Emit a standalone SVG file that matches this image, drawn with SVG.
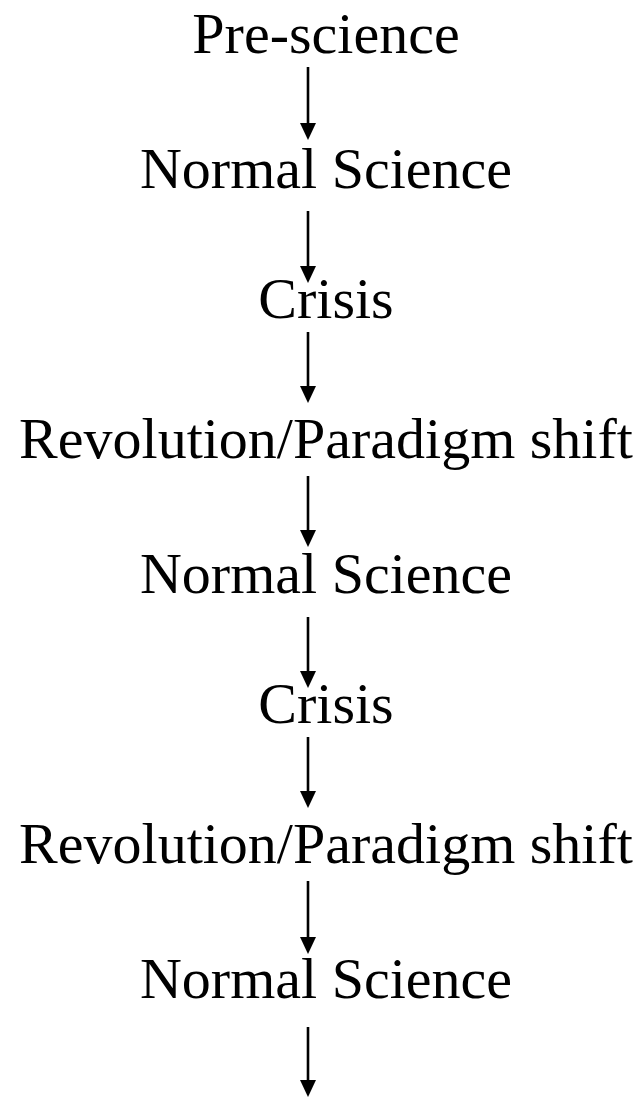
<svg xmlns="http://www.w3.org/2000/svg" width="643" height="1097" viewBox="0 0 643 1097">
<style>
.t{font-family:"Liberation Serif","Times New Roman",serif;font-size:58px;fill:#000;text-anchor:middle}
.c{stroke:#000;stroke-width:2.6;fill:none}
</style>
<defs>
<marker id="ah" markerUnits="userSpaceOnUse" viewBox="0 0 17 16" refX="5" refY="8" markerWidth="17" markerHeight="16" orient="auto">
<path d="M0,0 L17,8 L0,16 z" fill="#000"/>
</marker>
</defs>
<rect width="643" height="1097" fill="#fff"/>
<g id="n1"><text class="t" x="326" y="53">Pre-science</text></g>
<g id="n2"><text class="t" x="326" y="188">Normal Science</text></g>
<g id="n3"><text class="t" x="326" y="318">Crisis</text></g>
<g id="n4"><text class="t" x="326" y="458">Revolution/Paradigm shift</text></g>
<g id="n5"><text class="t" x="326" y="593">Normal Science</text></g>
<g id="n6"><text class="t" x="326" y="723">Crisis</text></g>
<g id="n7"><text class="t" x="326" y="863">Revolution/Paradigm shift</text></g>
<g id="n8"><text class="t" x="326" y="998">Normal Science</text></g>
<g id="connectors">
<line class="c" x1="308" y1="67" x2="308" y2="128" marker-end="url(#ah)"/>
<line class="c" x1="308" y1="211" x2="308" y2="271" marker-end="url(#ah)"/>
<line class="c" x1="308" y1="332" x2="308" y2="391" marker-end="url(#ah)"/>
<line class="c" x1="308" y1="476" x2="308" y2="535" marker-end="url(#ah)"/>
<line class="c" x1="308" y1="617" x2="308" y2="676" marker-end="url(#ah)"/>
<line class="c" x1="308" y1="737" x2="308" y2="796" marker-end="url(#ah)"/>
<line class="c" x1="308" y1="881" x2="308" y2="942" marker-end="url(#ah)"/>
<line class="c" x1="308" y1="1027" x2="308" y2="1085" marker-end="url(#ah)"/>
</g>
</svg>
